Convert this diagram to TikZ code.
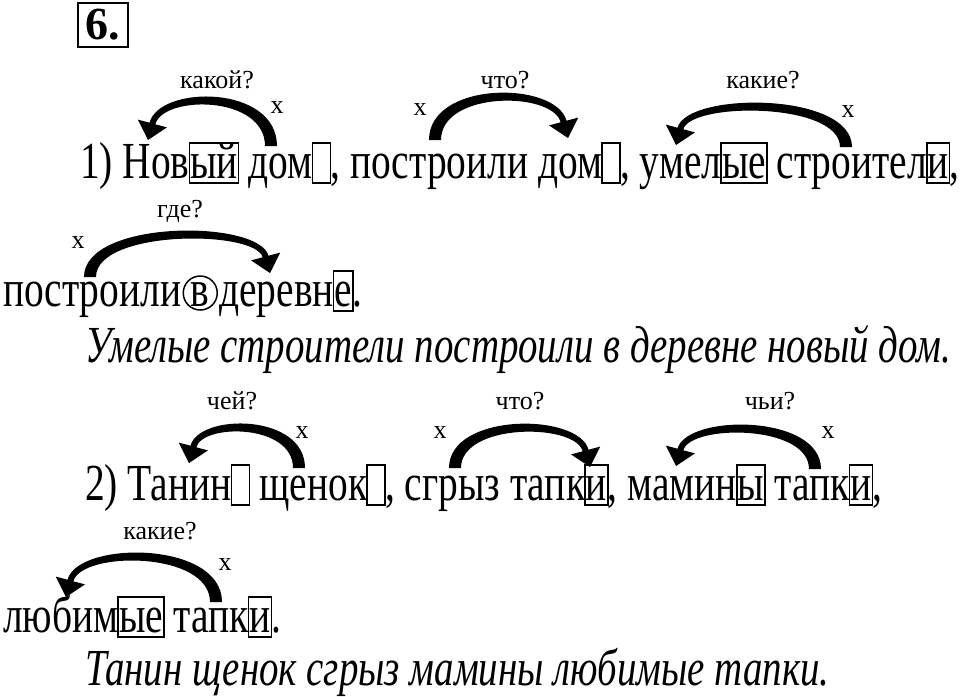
\documentclass[tikz,border=0pt]{standalone}
\usepackage{fontspec}
\setmainfont{Liberation Serif}
\newfontfamily\condfont{Liberation Serif}[FakeStretch=0.758]
\newfontfamily\conditfont{Liberation Serif Italic}[FakeStretch=0.748]
\usetikzlibrary{calc}
% tapered curved arrow: #1 tail coordinate, #2 direction (1 = to the left, -1 = to the right),
% #3 span to tip, #4 height of outer arc above tail, #5 tip offset in y
\newcommand\tarrow[5]{%
  \pgfmathsetmacro\hha{(8*#4 + #5 - 17.3)/6}%
  \pgfmathsetmacro\kka{(\hha + #5 - 17.3)/0.97}%
  \pgfmathsetmacro\hhb{(8*(#4-8) + #5 - 15.7)/6}%
  \pgfmathsetmacro\kkb{(\hhb + #5 - 15.7)/0.97}%
  \fill[shift={(#1)}, xscale=#2]
    (6,0) .. controls (6,-\hha) and ({-#3+1.5+0.26*\kka},-\hha) .. ({-#3+1.5},{#5-17.3})
    -- ({-#3-10.2},{#5-20.4}) -- ({-#3},{#5}) -- ({-#3+19},{#5-12.6}) -- ({-#3+7.3},{#5-15.7})
    .. controls ({-#3+7.3+0.26*\kkb},-\hhb) and (-6,-\hhb) .. (-6,0) -- cycle;}
\begin{document}
\begin{tikzpicture}[x=1pt,y=-1pt,
  txt/.style={font=\condfont\fontsize{52}{60}\selectfont, inner sep=0pt, outer sep=0pt, anchor=base west},
  bx/.style={txt, draw, line width=1.5pt, inner xsep=0.8pt, text height=35pt, text depth=5pt},
  ebx/.style={bx, minimum width=18pt},
  lbl/.style={font=\fontsize{26}{30}\selectfont, inner sep=0pt},
  it/.style={txt, font=\conditfont\fontsize{52}{60}\selectfont},
]
\useasboundingbox (0,0) rectangle (960,696);
% number
\node[draw, line width=2pt, inner sep=3pt, minimum width=50pt, minimum height=44pt, font=\fontsize{46}{50}\selectfont\bfseries] (num) at (103,25) {6.};
% line 1
\node[txt] (l1a) at (80,178) {1) Нов};
\node[bx] (l1b) at (l1a.base east) {ый};
\node[txt] (l1c) at (l1b.base east) {\ дом};
\node[ebx] (l1d) at (l1c.base east) {};
\node[txt] (l1e) at (l1d.base east) {, построили дом};
\node[ebx] (l1f) at (l1e.base east) {};
\node[txt] (l1g) at (l1f.base east) {, умел};
\node[bx] (l1h) at (l1g.base east) {ые};
\node[txt] (l1i) at (l1h.base east) {\ строител};
\node[bx] (l1j) at (l1i.base east) {и};
\node[txt] (l1k) at (l1j.base east) {,};
% line 2
\node[txt] (l2a) at (3,306) {построили};
\node[txt, minimum width=38pt, align=center] (l2b) at (l2a.base east) {в};
\node[draw, circle, line width=1.5pt, minimum size=34pt, inner sep=0pt] (c2) at ($(l2b.base)+(0,-13)$) {};
\node[txt] (l2c) at (l2b.base east) {деревн};
\node[bx] (l2d) at (l2c.base east) {е};
\node[txt] (l2e) at (l2d.base east) {.};
% italic 1
\node[it] (s1) at (85,362) {Умелые строители построили в деревне новый дом.};
% line 3
\node[txt] (l3a) at (85,500) {2) Танин};
\node[ebx] (l3b) at (l3a.base east) {};
\node[txt] (l3c) at (l3b.base east) {\ щенок};
\node[ebx] (l3d) at (l3c.base east) {};
\node[txt] (l3e) at (l3d.base east) {, сгрыз тапк};
\node[bx] (l3f) at (l3e.base east) {и};
\node[txt] (l3g) at (l3f.base east) {, мамин};
\node[bx] (l3h) at (l3g.base east) {ы};
\node[txt] (l3i) at (l3h.base east) {\ тапк};
\node[bx] (l3j) at (l3i.base east) {и};
\node[txt] (l3k) at (l3j.base east) {,};
% line 4
\node[txt] (l4a) at (3,632) {любим};
\node[bx] (l4b) at (l4a.base east) {ые};
\node[txt] (l4c) at (l4b.base east) {\ тапк};
\node[bx] (l4d) at (l4c.base east) {и};
\node[txt] (l4e) at (l4d.base east) {.};
% italic 2
\node[it] (s2) at (85,685) {Танин щенок сгрыз мамины любимые тапки.};
% labels
\node[lbl] (q1) at (217,80) {какой?};  \node[lbl] (x1) at (277,108) {x};
\node[lbl] (q2) at (505,80) {что?};    \node[lbl] (x2) at (420,110) {x};
\node[lbl] (q3) at (763,80) {какие?};  \node[lbl] (x3) at (848,112) {x};
\node[lbl] (q4) at (180,211) {где?};   \node[lbl] (x4) at (78,243) {x};
\node[lbl] (q5) at (232,401) {чей?};   \node[lbl] (x5) at (302,433) {x};
\node[lbl] (q6) at (520,401) {что?};   \node[lbl] (x6) at (440,433) {x};
\node[lbl] (q7) at (770,401) {чьи?};   \node[lbl] (x7) at (828,433) {x};
\node[lbl] (q8) at (160,531) {какие?}; \node[lbl] (x8) at (225,565) {x};
% arrow tails
\coordinate (t1) at (271,146);
\coordinate (t2) at (435,140);
\coordinate (t3) at (846,147);
\coordinate (t4) at (90,277);
\coordinate (t5) at (299,468);
\coordinate (t6) at (455,468);
\coordinate (t7) at (815,469);
\coordinate (t8) at (216,602);
% arrows
\tarrow{t1}{1}{123}{49}{-6}
\tarrow{t2}{-1}{133}{47}{-2}
\tarrow{t3}{1}{170}{44}{-2}
\tarrow{t4}{-1}{180}{46}{-4}
\tarrow{t5}{1}{110}{44}{-5}
\tarrow{t6}{-1}{135}{44}{-1}
\tarrow{t7}{1}{139}{44}{-3}
\tarrow{t8}{1}{150}{49}{-5}
\end{tikzpicture}
\end{document}
